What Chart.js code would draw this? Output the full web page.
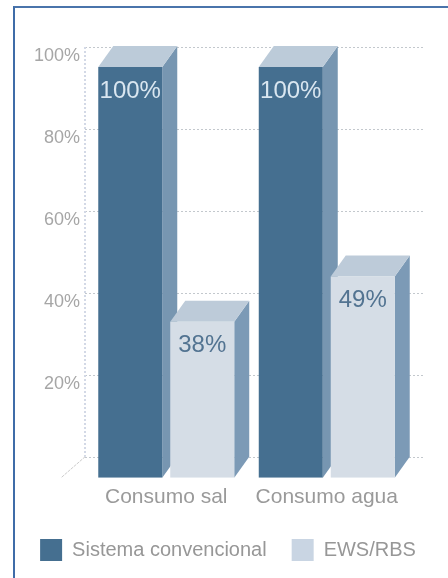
<!DOCTYPE html>
<html lang="es">
<head>
  <meta charset="UTF-8" />
  <title>Consumo de sal y agua</title>
  <script src="https://cdn.jsdelivr.net/npm/chart.js"></script>
  <style>
    html, body {
      margin: 0;
      padding: 0;
      background: #fff;
      overflow: hidden;
    }
    .frame {
      position: absolute;
      left: 13px;
      top: 6px;
      width: 440px;
      height: 580px;
      border-left: 2px solid #3f6ca8;
      border-top: 2px solid #4a74ab;
    }
    canvas {
      position: absolute;
      left: 0;
      top: 0;
    }
  </style>
</head>
<body>
  <div class="frame"></div>
  <canvas id="chart" width="448" height="578"></canvas>

  <script>
    const categories = ['Consumo sal', 'Consumo agua'];
    const seriesNames = ['Sistema convencional', 'EWS/RBS'];
    const convencional = [100, 100];
    const ews = [38, 49];
    const yTicks = [0, 20, 40, 60, 80, 100];

    const FONT = "'Liberation Sans', sans-serif";
    const DEPTH_X = 15;

    const faces = [
      { front: '#456f90', side: '#7796b1', top: '#bccbd9', label: '#d9e6f0' },
      { front: '#d5dde6', side: '#7c9ab6', top: '#bdcbd9', label: '#527391' }
    ];

    // back wall, side and top faces go under the bars, value labels over them
    const box3d = {
      id: 'box3d',
      beforeDatasetsDraw(chart) {
        const { ctx, chartArea, scales } = chart;
        const back = scales.yBack;
        const depthY = scales.y.getPixelForValue(0) - back.getPixelForValue(0);
        const wallX = chartArea.left - 1;
        const wallBottom = back.getPixelForValue(0);

        ctx.save();
        ctx.lineWidth = 1;
        ctx.setLineDash([2, 2]);
        ctx.strokeStyle = '#c3c8cd';
        yTicks.forEach(v => {
          const py = Math.round(back.getPixelForValue(v)) + 0.5;
          ctx.beginPath();
          ctx.moveTo(wallX, py);
          ctx.lineTo(chartArea.right + DEPTH_X + 2, py);
          ctx.stroke();
        });

        ctx.lineWidth = 2;
        ctx.strokeStyle = '#d3d9e6';
        ctx.beginPath();
        ctx.moveTo(wallX, back.getPixelForValue(100));
        ctx.lineTo(wallX, wallBottom);
        ctx.stroke();

        ctx.lineWidth = 1;
        ctx.setLineDash([3, 1]);
        ctx.strokeStyle = '#cbcbcb';
        ctx.beginPath();
        ctx.moveTo(wallX, wallBottom);
        ctx.lineTo(wallX - 24, wallBottom + depthY);
        ctx.stroke();
        ctx.setLineDash([]);

        chart.data.datasets.forEach((ds, i) => {
          chart.getDatasetMeta(i).data.forEach(bar => {
            const left = bar.x - bar.width / 2;
            const right = bar.x + bar.width / 2;
            ctx.fillStyle = faces[i].side;
            ctx.beginPath();
            ctx.moveTo(right, bar.y);
            ctx.lineTo(right + DEPTH_X, bar.y - depthY);
            ctx.lineTo(right + DEPTH_X, bar.base - depthY);
            ctx.lineTo(right, bar.base);
            ctx.closePath();
            ctx.fill();

            ctx.fillStyle = faces[i].top;
            ctx.beginPath();
            ctx.moveTo(left, bar.y);
            ctx.lineTo(left + DEPTH_X, bar.y - depthY);
            ctx.lineTo(right + DEPTH_X, bar.y - depthY);
            ctx.lineTo(right, bar.y);
            ctx.closePath();
            ctx.fill();
          });
        });
        ctx.restore();
      },
      afterDatasetsDraw(chart) {
        const { ctx } = chart;
        ctx.save();
        ctx.font = '24px ' + FONT;
        ctx.textAlign = 'center';
        ctx.textBaseline = 'middle';
        chart.data.datasets.forEach((ds, i) => {
          ctx.fillStyle = faces[i].label;
          chart.getDatasetMeta(i).data.forEach((bar, j) => {
            ctx.fillText(ds.data[j] + '%', bar.x, bar.y + 24);
          });
        });
        ctx.restore();
      }
    };

    new Chart(document.getElementById('chart'), {
      type: 'bar',
      data: {
        labels: categories,
        datasets: [
          { label: seriesNames[0], data: convencional, backgroundColor: faces[0].front, borderWidth: 0 },
          { label: seriesNames[1], data: ews, backgroundColor: faces[1].front, borderWidth: 0 }
        ]
      },
      options: {
        responsive: false,
        animation: false,
        categoryPercentage: 0.897,
        barPercentage: 0.889,
        layout: { padding: { left: 8, right: 0, top: 47, bottom: 7 } },
        plugins: {
          tooltip: { enabled: false },
          legend: {
            position: 'bottom',
            labels: {
              boxWidth: 22,
              boxHeight: 22,
              padding: 25,
              color: '#979797',
              font: { family: FONT, size: 20 },
              generateLabels(chart) {
                const items = Chart.defaults.plugins.legend.labels.generateLabels(chart);
                items[1].fillStyle = '#c9d5e3';
                return items;
              }
            }
          }
        },
        scales: {
          x: {
            grid: { display: false, drawTicks: false },
            border: { display: false },
            afterFit(scale) {
              scale.height -= 3;
            },
            ticks: {
              color: '#9a9a9a',
              padding: 7,
              maxRotation: 0,
              font: { family: FONT, size: 21 }
            }
          },
          // front face of the bars
          y: {
            display: false,
            min: 0,
            max: 104.87
          },
          // back wall, sits behind the front plane
          yBack: {
            position: 'left',
            min: -5.12,
            max: 100,
            grid: { display: false, drawTicks: false },
            border: { display: false },
            afterBuildTicks(scale) {
              scale.ticks = yTicks.map(value => ({ value }));
            },
            afterFit(scale) {
              scale.width = 78;
            },
            ticks: {
              color: '#a6a6a6',
              padding: 6,
              labelOffset: 9,
              autoSkip: false,
              font: { family: FONT, size: 18 },
              callback: v => (v === 0 ? '' : v + '%')
            }
          },
          // empty axis, keeps the plot clear of the right edge but not the legend
          ySpacer: {
            position: 'right',
            grid: { display: false, drawTicks: false },
            border: { display: false },
            ticks: { display: false },
            afterFit(scale) {
              scale.width = 41;
            }
          }
        }
      },
      plugins: [box3d]
    });
  </script>
</body>
</html>
